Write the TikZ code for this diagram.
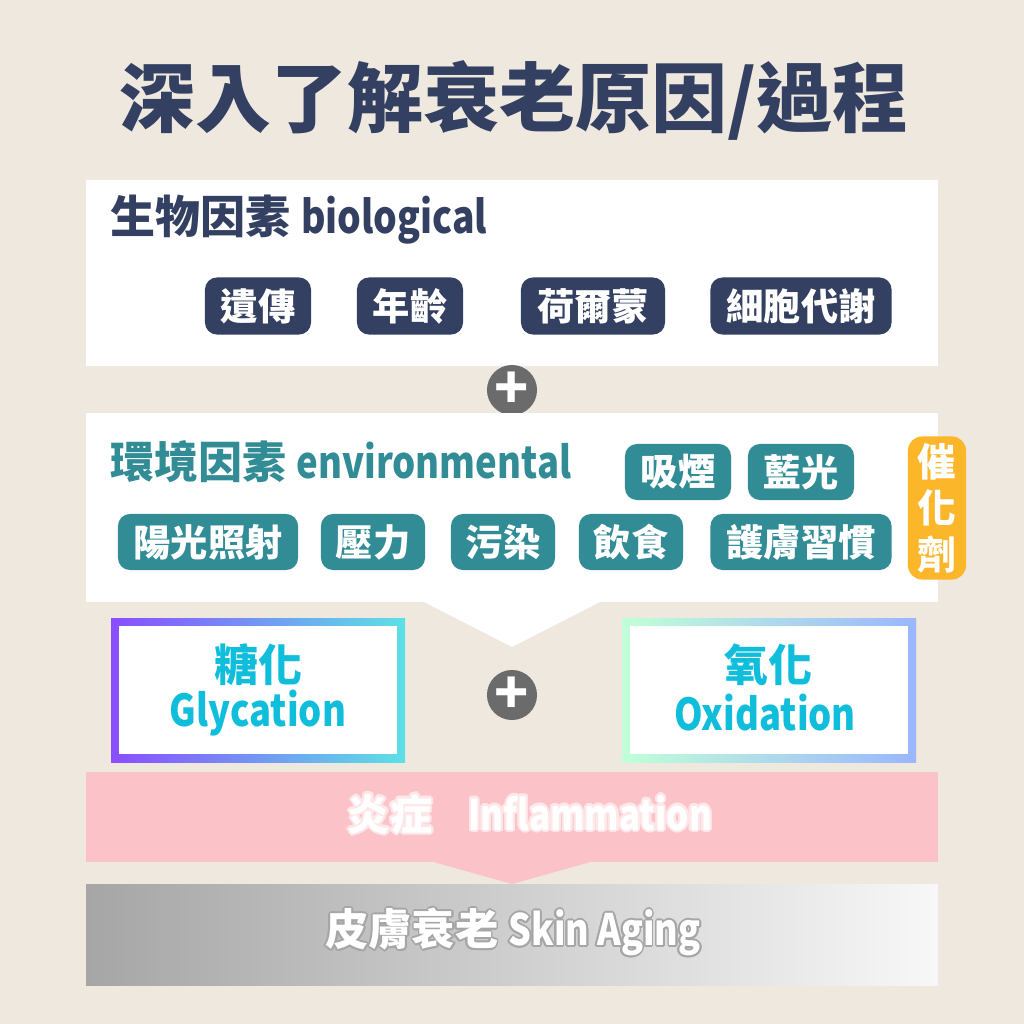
\documentclass[tikz,border=0pt]{standalone}
\usepackage{graphicx}
\usepackage{fontspec}
\setmainfont{Noto Sans CJK TC}
\usepackage{contour}

\definecolor{bgpaper}{RGB}{238,232,223}
\definecolor{navy}{RGB}{51,64,97}
\definecolor{tealbox}{RGB}{49,140,150}
\definecolor{catalyst}{RGB}{251,182,42}
\definecolor{pinkband}{RGB}{251,195,200}
\definecolor{cyantext}{RGB}{16,190,220}
\definecolor{plusgray}{RGB}{107,107,107}
\definecolor{glypurple}{RGB}{138,77,255}
\definecolor{glycyan}{RGB}{92,225,230}
\definecolor{oxmint}{RGB}{193,255,215}
\definecolor{oxblue}{RGB}{154,182,255}

\newcommand{\narrowtxt}[1]{\scalebox{0.83}[1]{#1}}

\begin{document}
\begin{tikzpicture}[x=0.01cm,y=-0.01cm,
    bio/.style={fill=navy, text=white, rounded corners=0.12cm, inner sep=0pt,
        minimum height=0.57cm, font=\fontsize{10.6}{12}\bfseries\selectfont},
    env/.style={bio, fill=tealbox, minimum height=0.56cm},
    plus/.style={circle, fill=plusgray, text=white, inner sep=0pt, minimum size=0.44cm,
        font=\fontsize{16}{16}\bfseries\selectfont},
    factor/.style={text=cyantext, font=\fontsize{12.5}{14}\bfseries\selectfont}]
    \useasboundingbox (0,0) rectangle (1024,1024);
    \fill [bgpaper] (0,0) rectangle (1024,1024);

    \node [text=navy, font=\fontsize{21.6}{26}\bfseries\selectfont] (title) at (514,100) {深入了解衰老原因/過程};

    % biological
    \fill [white] (86,180) rectangle (938,366);
    \node [anchor=west, inner sep=0pt, text=navy, font=\fontsize{12.8}{15}\bfseries\selectfont] (biohead) at (110,220) {生物因素 \narrowtxt{biological}};
    \node [bio, minimum width=1.06cm] (gene) at (258,306) {遺傳};
    \node [bio, minimum width=1.06cm] (age) at (410,306) {年齡};
    \node [bio, minimum width=1.44cm] (hormone) at (593,306) {荷爾蒙};
    \node [bio, minimum width=1.81cm] (metab) at (801,306) {細胞代謝};

    \node [plus] (plusA) at (512,390) {+};

    % environmental
    \fill [white] (86,413) rectangle (938,602);
    \fill [white] (422,601) -- (602,601) -- (512,647) -- cycle;
    \node [anchor=west, inner sep=0pt, text=tealbox, font=\fontsize{12.5}{15}\bfseries\selectfont] (envhead) at (110,462) {環境因素 \narrowtxt{environmental}};
    \node [env, minimum width=1.06cm] (smoke) at (678,472) {吸煙};
    \node [env, minimum width=1.06cm] (bluelight) at (801,472) {藍光};
    \node [env, minimum width=1.80cm] (sun) at (208,542) {陽光照射};
    \node [env, minimum width=1.04cm] (stress) at (373,542) {壓力};
    \node [env, minimum width=1.04cm] (pollute) at (503,542) {污染};
    \node [env, minimum width=1.04cm] (diet) at (631,542) {飲食};
    \node [env, minimum width=1.81cm] (care) at (801,542) {護膚習慣};
    \node [fill=catalyst, text=white, rounded corners=0.14cm, inner sep=0pt,
        minimum width=0.58cm, minimum height=1.43cm, align=center,
        font=\fontsize{11}{13.2}\bfseries\selectfont] (catal) at (937,508) {催\\化\\劑};

    % glycation + oxidation
    \shade [left color=glypurple, right color=glycyan] (111,618) rectangle (405,762);
    \fill [white] (119,626) rectangle (397,754);
    \node [factor] (glyzh) at (258,665) {糖化};
    \node [factor] (glyen) at (258,713) {\narrowtxt{Glycation}};
    \shade [left color=oxmint, right color=oxblue] (622,618) rectangle (916,762);
    \fill [white] (630,626) rectangle (908,754);
    \node [factor] (oxzh) at (768,665) {氧化};
    \node [factor] (oxen) at (765,713) {\narrowtxt{Oxidation}};
    \node [plus] (plusB) at (512,695) {+};

    % inflammation
    \fill [pinkband] (86,772) rectangle (938,862);
    \fill [pinkband] (430,861) -- (594,861) -- (512,884) -- cycle;
    \contourlength{0.6pt}
    \node [text=white, font=\fontsize{12}{15}\bfseries\selectfont] (inflam) at (530,815)
        {\contour{white!60!pinkband}{炎症\hspace{0.36cm}\narrowtxt{Inflammation}}};

    % skin aging
    \shade [left color=black!35, right color=white!97!black] (86,884) rectangle (938,985);
    \contourlength{0.5pt}
    \node [text=white, font=\fontsize{12.3}{15}\bfseries\selectfont] (aging) at (513,933)
        {\contour{black!35}{皮膚衰老 \narrowtxt{Skin Aging}}};
\end{tikzpicture}
\end{document}
